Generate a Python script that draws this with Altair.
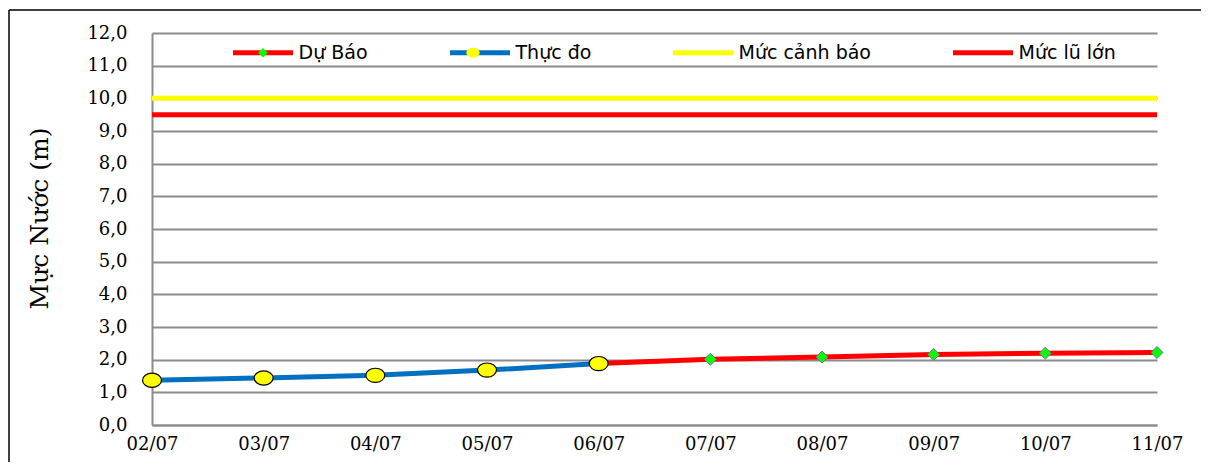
import altair as alt
import pandas as pd

# ---- data ----
dates = ["02/07", "03/07", "04/07", "05/07", "06/07",
         "07/07", "08/07", "09/07", "10/07", "11/07"]
observed_dates = ["02/07", "03/07", "04/07", "05/07", "06/07"]
observed_values = [1.37, 1.44, 1.52, 1.68, 1.88]
forecast_dates = ["06/07", "07/07", "08/07", "09/07", "10/07", "11/07"]
forecast_values = [1.88, 2.01, 2.08, 2.16, 2.20, 2.22]
level_names = ["Mức cảnh báo", "Mức lũ lớn"]
level_values = [10.0, 9.5]
series_names = ["Dự Báo", "Thực đo", "Mức cảnh báo", "Mức lũ lớn"]
marker_series = ["Dự Báo", "Thực đo"]
y_ticks = [0, 1, 2, 3, 4, 5, 6, 7, 8, 9, 10, 11, 12]
y_title = "Mực Nước (m)"

obs_df = pd.DataFrame({"date": observed_dates, "value": observed_values, "series": "Thực đo"})
fc_df = pd.DataFrame({"date": forecast_dates, "value": forecast_values, "series": "Dự Báo"})
lvl_df = pd.DataFrame({"series": level_names, "value": level_values})
frame_df = pd.DataFrame({"k": [0]})

PLOT_W, PLOT_H = 1005, 392
PAD = {"left": 144, "top": 25, "right": 44, "bottom": 37}
GRID = "#8c8c8c"
SERIF = "DejaVu Serif"
SANS = "DejaVu Sans"

# invisible move-to points give the marker symbols the same width as the line symbols
span = "M-1.0667,0M1.0667,0"
diamond_path = span + "M0,-0.16L0.16,0L0,0.16L-0.16,0Z"
ellipse_path = span + "M-0.22,0A0.22,0.165 0 1,0 0.22,0A0.22,0.165 0 1,0 -0.22,0Z"

x_enc = alt.X(
    "date:O", sort=dates,
    scale=alt.Scale(type="point", padding=0, domain=dates),
    axis=alt.Axis(title=None, labelFont=SERIF, labelFontSize=18, labelColor="#000",
                  labelAngle=0, ticks=False, labelPadding=10, grid=False,
                  domainColor=GRID, domainWidth=2),
)
y_enc = alt.Y(
    "value:Q",
    scale=alt.Scale(domain=[0, 12], nice=False, zero=True),
    axis=alt.Axis(values=y_ticks, title=y_title, titleFont=SERIF, titleFontSize=25,
                  titleFontWeight="normal", titleColor="#000", titleAngle=270,
                  titleX=-113, titleY=185, titleAlign="center", titleBaseline="middle",
                  labelFont=SERIF, labelFontSize=18, labelColor="#000",
                  labelExpr="replace(format(datum.value, '.1f'), '.', ',')",
                  ticks=False, labelPadding=25, grid=True, gridColor=GRID, gridWidth=2,
                  domainColor=GRID, domainWidth=2),
)

legend_a = alt.Legend(
    orient="none", legendX=78.5, legendY=-13, direction="horizontal", title=None,
    symbolType="stroke", symbolSize=3600, symbolStrokeWidth=5, symbolOffset=0,
    labelOffset=3, columnPadding=71, labelFont=SANS, labelFontSize=19,
    labelColor="#000", padding=0, zindex=1,
)
legend_b = alt.Legend(
    orient="none", legendX=78.5, legendY=-11, direction="horizontal", title=None,
    symbolSize=3600, symbolStrokeWidth=1, symbolStrokeColor="#333333", symbolOffset=2,
    labelOffset=0, columnPadding=141, labelFont=SANS, labelFontSize=19,
    labelExpr="''", padding=0, zindex=2,
)

stroke_enc = alt.Stroke(
    "series:N",
    scale=alt.Scale(domain=series_names, range=["#ff0000", "#0070c0", "#ffff00", "#ff0000"]),
    legend=legend_a,
)
fill_enc = alt.Fill(
    "series:N",
    scale=alt.Scale(domain=marker_series, range=["#00ff00", "#ffff00"]),
    legend=legend_b,
)
shape_enc = alt.Shape(
    "series:N",
    scale=alt.Scale(domain=marker_series, range=[diamond_path, ellipse_path]),
    legend=legend_b,
)

levels = alt.Chart(lvl_df).mark_rule(strokeWidth=5).encode(y=y_enc, stroke=stroke_enc)
fc_line = alt.Chart(fc_df).mark_line(strokeWidth=5).encode(x=x_enc, y=y_enc, stroke=stroke_enc)
obs_line = alt.Chart(obs_df).mark_line(strokeWidth=5).encode(x=x_enc, y=y_enc, stroke=stroke_enc)
fc_pts = alt.Chart(fc_df).mark_point(filled=True, size=5600, stroke="#7a6a9e", strokeWidth=1,
                                     opacity=1).encode(x=x_enc, y=y_enc, fill=fill_enc, shape=shape_enc)
obs_pts = alt.Chart(obs_df).mark_point(filled=True, size=7400, stroke="#000000", strokeWidth=1.2,
                                       opacity=1).encode(x=x_enc, y=y_enc, fill=fill_enc, shape=shape_enc)

frame_left = alt.Chart(frame_df).mark_rule(color="#000", strokeWidth=1.5).encode(
    x=alt.value(-143), y=alt.value(-23), y2=alt.value(PLOT_H + PAD["bottom"]))
frame_top = alt.Chart(frame_df).mark_rule(color="#000", strokeWidth=1.5).encode(
    x=alt.value(-143), x2=alt.value(PLOT_W + PAD["right"]), y=alt.value(-23))

chart = alt.layer(
    levels, fc_line, obs_line, fc_pts, obs_pts, frame_left, frame_top
).properties(
    width=PLOT_W, height=PLOT_H, padding=PAD,
    autosize=alt.AutoSizeParams(type="none"), background="#ffffff",
).configure_view(stroke=None)

chart.save("out.html", embed_options={"renderer": "svg", "actions": False})
